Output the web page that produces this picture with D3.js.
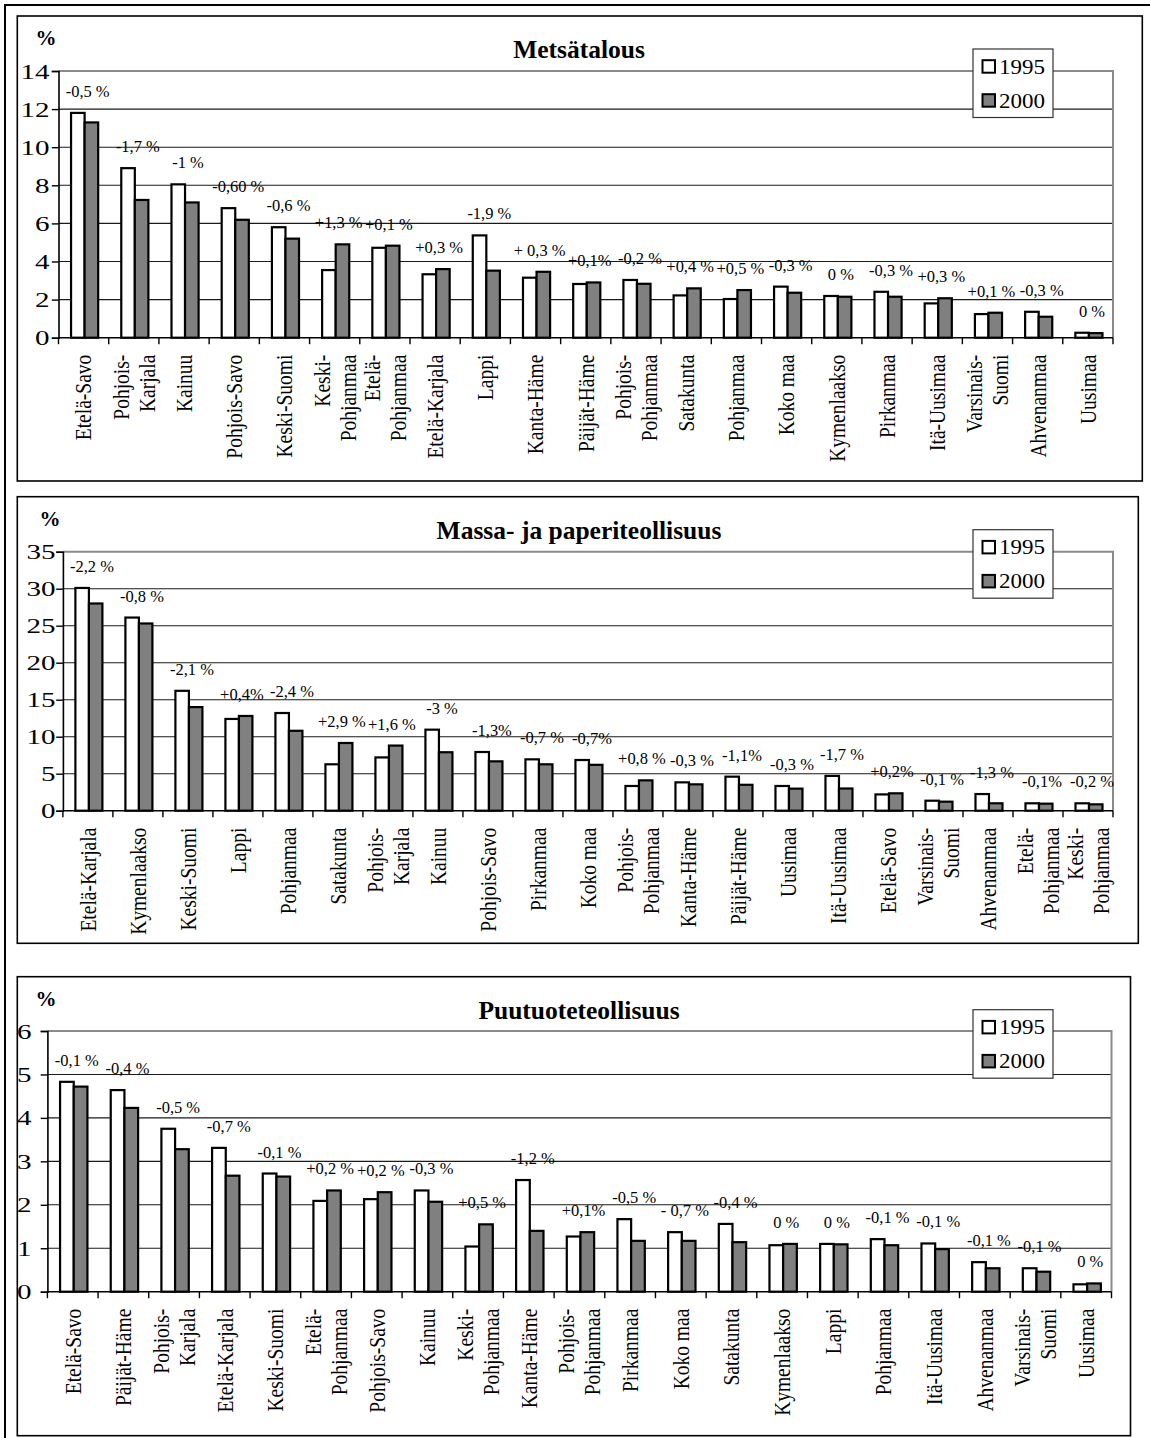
<!DOCTYPE html>
<html><head><meta charset="utf-8">
<script src="https://cdn.jsdelivr.net/npm/d3@7"></script>
<style>body{margin:0;background:#fff}svg{display:block}</style>
</head><body>
<svg id="c" width="1150" height="1438"></svg>
<script>
// ---------- DATA ----------
const years = ["1995", "2000"];

const metsTitle = "Metsätalous";
const metsCategories = ["Etelä-Savo","Pohjois-\nKarjala","Kainuu","Pohjois-Savo","Keski-Suomi","Keski-\nPohjanmaa","Etelä-\nPohjanmaa","Etelä-Karjala","Lappi","Kanta-Häme","Päijät-Häme","Pohjois-\nPohjanmaa","Satakunta","Pohjanmaa","Koko maa","Kymenlaakso","Pirkanmaa","Itä-Uusimaa","Varsinais-\nSuomi","Ahvenanmaa","Uusimaa"];
const mets1995 = [11.8,8.9,8.05,6.8,5.8,3.55,4.72,3.33,5.37,3.15,2.82,3.03,2.22,2.03,2.68,2.19,2.41,1.8,1.24,1.36,0.26];
const mets2000 = [11.3,7.23,7.1,6.19,5.2,4.9,4.83,3.6,3.52,3.46,2.9,2.83,2.59,2.5,2.36,2.15,2.15,2.07,1.31,1.1,0.24];
const metsChange = ["-0,5 %","-1,7 %","-1 %","-0,60 %","-0,6 %","+1,3 %","+0,1 %","+0,3 %","-1,9 %","+ 0,3 %","+0,1%","-0,2 %","+0,4 %","+0,5 %","-0,3 %","0 %","-0,3 %","+0,3 %","+0,1 %","-0,3 %","0 %"];
const metsTicks = [0,2,4,6,8,10,12,14];

const massaTitle = "Massa- ja paperiteollisuus";
const massaCategories = ["Etelä-Karjala","Kymenlaakso","Keski-Suomi","Lappi","Pohjanmaa","Satakunta","Pohjois-\nKarjala","Kainuu","Pohjois-Savo","Pirkanmaa","Koko maa","Pohjois-\nPohjanmaa","Kanta-Häme","Päijät-Häme","Uusimaa","Itä-Uusimaa","Etelä-Savo","Varsinais-\nSuomi","Ahvenanmaa","Etelä-\nPohjanmaa","Keski-\nPohjanmaa"];
const massa1995 = [30.1,26.1,16.2,12.4,13.2,6.27,7.2,10.95,7.93,6.94,6.85,3.34,3.83,4.6,3.34,4.7,2.2,1.35,2.25,1.0,1.0];
const massa2000 = [28.0,25.3,14.0,12.8,10.8,9.15,8.8,7.9,6.67,6.27,6.2,4.1,3.56,3.5,2.98,3.0,2.35,1.22,1.0,0.95,0.86];
const massaChange = ["-2,2 %","-0,8 %","-2,1 %","+0,4%","-2,4 %","+2,9 %","+1,6 %","-3 %","-1,3%","-0,7 %","-0,7%","+0,8 %","-0,3 %","-1,1%","-0,3 %","-1,7 %","+0,2%","-0,1 %","-1,3 %","-0,1%","-0,2 %"];
const massaTicks = [0,5,10,15,20,25,30,35];

const puuTitle = "Puutuoteteollisuus";
const puuCategories = ["Etelä-Savo","Päijät-Häme","Pohjois-\nKarjala","Etelä-Karjala","Keski-Suomi","Etelä-\nPohjanmaa","Pohjois-Savo","Kainuu","Keski-\nPohjanmaa","Kanta-Häme","Pohjois-\nPohjanmaa","Pirkanmaa","Koko maa","Satakunta","Kymenlaakso","Lappi","Pohjanmaa","Itä-Uusimaa","Ahvenanmaa","Varsinais-\nSuomi","Uusimaa"];
const puu1995 = [4.83,4.64,3.75,3.31,2.72,2.09,2.13,2.33,1.04,2.57,1.27,1.67,1.37,1.56,1.07,1.1,1.21,1.11,0.68,0.54,0.17];
const puu2000 = [4.72,4.23,3.28,2.67,2.65,2.33,2.29,2.07,1.55,1.4,1.37,1.17,1.17,1.14,1.1,1.09,1.07,0.98,0.54,0.46,0.19];
const puuChange = ["-0,1 %","-0,4 %","-0,5 %","-0,7 %","-0,1 %","+0,2 %","+0,2 %","-0,3 %","+0,5 %","-1,2 %","+0,1%","-0,5 %","- 0,7 %","-0,4 %","0 %","0 %","-0,1 %","-0,1 %","-0,1 %","-0,1 %","0 %"];
const puuTicks = [0,1,2,3,4,5,6];

// ---------- LAYOUT ----------
const FONT = "'Liberation Serif','Times New Roman',serif";
const SX = 1.15;
const panels = [
  {title: metsTitle, cats: metsCategories, a: mets1995, b: mets2000, chg: metsChange, ticks: metsTicks,
   top: 16, bottom: 481, left: 17.3, right: 1142.3, axisX: 58.5, plotRight: 1113, plotTop: 71, plotBottom: 337.7, tickLabelX: 49.5, pctX: 46},
  {title: massaTitle, cats: massaCategories, a: massa1995, b: massa2000, chg: massaChange, ticks: massaTicks,
   top: 496.7, bottom: 943.3, left: 17.3, right: 1138.3, axisX: 62.9, plotRight: 1113, plotTop: 551.7, plotBottom: 810.7, tickLabelX: 55.5, pctX: 50},
  {title: puuTitle, cats: puuCategories, a: puu1995, b: puu2000, chg: puuChange, ticks: puuTicks,
   top: 976.7, bottom: 1435.7, left: 17.3, right: 1130.5, axisX: 47.4, plotRight: 1111.5, plotTop: 1031, plotBottom: 1291.7, tickLabelX: 31.5, pctX: 46}
];

const svg = d3.select("#c");
svg.append("rect").attr("x", 0).attr("y", 0).attr("width", 1150).attr("height", 1438).attr("fill", "#fff");
// outer frame (right/bottom edges fall outside the picture)
svg.append("rect").attr("x", 5).attr("y", 5).attr("width", 1160).attr("height", 1450)
  .attr("fill", "none").attr("stroke", "#000").attr("stroke-width", 2);

function stext(g, x, y, str, size, anchor, sx) {
  return g.append("text")
    .attr("transform", `translate(${x},${y}) scale(${sx},1)`)
    .attr("font-family", FONT).attr("font-size", size)
    .attr("text-anchor", anchor).attr("fill", "#000").text(str);
}

panels.forEach(p => {
  const g = svg.append("g");
  g.append("rect").attr("x", p.left).attr("y", p.top)
    .attr("width", p.right - p.left).attr("height", p.bottom - p.top)
    .attr("fill", "#fff").attr("stroke", "#000").attr("stroke-width", 1.6);

  const idx = d3.range(p.cats.length);
  const x0 = d3.scaleBand().domain(idx).range([p.axisX, p.plotRight]).padding(0);
  const bw = x0.bandwidth();
  const x1 = d3.scaleBand().domain(years).range([0.25 * bw, 0.79 * bw]).padding(0);
  const ymax = d3.max(p.ticks);
  const y = d3.scaleLinear().domain([0, ymax]).range([p.plotBottom, p.plotTop]);

  // gridlines
  g.append("g").selectAll("line").data(p.ticks.filter(t => t > 0 && t < ymax)).join("line")
    .attr("x1", p.axisX).attr("x2", p.plotRight)
    .attr("y1", d => y(d)).attr("y2", d => y(d))
    .attr("stroke", "#1a1a1a").attr("stroke-width", 1.1);
  // plot area border top/right (gray)
  g.append("path")
    .attr("d", `M${p.axisX},${y(ymax)}H${p.plotRight}V${y(0)}`)
    .attr("fill", "none").attr("stroke", "#8a8a8a").attr("stroke-width", 2);

  // bars
  const series = [p.a, p.b];
  const fills = ["#ffffff", "#808080"];
  series.forEach((vals, si) => {
    g.append("g").selectAll("rect").data(vals).join("rect")
      .attr("x", (d, i) => x0(i) + x1(years[si]))
      .attr("y", d => y(d))
      .attr("width", x1.bandwidth())
      .attr("height", d => y(0) - y(d))
      .attr("fill", fills[si]).attr("stroke", "#000").attr("stroke-width", 2.2);
  });

  // y axis
  const yAxis = d3.axisLeft(y).tickValues(p.ticks).tickSize(6.7).tickFormat("");
  const ya = g.append("g").attr("transform", `translate(${p.axisX},0)`).call(yAxis);
  ya.select(".domain").attr("stroke", "#000").attr("stroke-width", 1.6);
  ya.selectAll(".tick line").attr("stroke", "#000").attr("stroke-width", 1.4);
  p.ticks.forEach(t => {
    stext(g, p.tickLabelX, y(t) + 7.5, String(t), 22, "end", 1.32);
  });

  // x axis: ticks at band boundaries
  const bounds = idx.map(i => x0(i)).concat([p.plotRight]);
  g.append("line").attr("x1", p.axisX).attr("x2", p.plotRight)
    .attr("y1", y(0)).attr("y2", y(0)).attr("stroke", "#000").attr("stroke-width", 1.6);
  g.append("g").selectAll("line").data(bounds).join("line")
    .attr("x1", d => d).attr("x2", d => d)
    .attr("y1", y(0)).attr("y2", y(0) + 6.5)
    .attr("stroke", "#000").attr("stroke-width", 1.4);

  // category labels, rotated
  const lineGap = 26;
  idx.forEach(i => {
    const lines = p.cats[i].split("\n");
    const cx = x0(i) + bw / 2;
    const t = g.append("text")
      .attr("transform", `translate(${cx},${y(0) + 17}) scale(${SX},1) rotate(-90)`)
      .attr("font-family", FONT).attr("font-size", 19.5)
      .attr("text-anchor", "end").attr("fill", "#000");
    lines.forEach((ln, li) => {
      const off = (li - (lines.length - 1) / 2) * lineGap / SX;
      t.append("tspan").attr("x", 0).attr("y", off).attr("dy", "0.35em").text(ln);
    });
  });

  // change annotations
  idx.forEach(i => {
    const top = Math.max(p.a[i], p.b[i]);
    stext(g, x0(i) + bw * 0.58, y(top) - 16, p.chg[i], 16, "middle", 1.03);
  });

  // title and unit
  g.append("text").attr("x", 579).attr("y", p.top + 42)
    .attr("font-family", FONT).attr("font-size", 25.5).attr("font-weight", "bold")
    .attr("text-anchor", "middle").text(p.title);
  g.append("text").attr("x", p.pctX).attr("y", p.top + 29)
    .attr("font-family", FONT).attr("font-size", 21).attr("font-weight", "bold")
    .attr("text-anchor", "middle").text("%");

  // legend
  const lx = 973, ly = p.top + 33;
  const lg = g.append("g");
  lg.append("rect").attr("x", lx).attr("y", ly).attr("width", 80).attr("height", 68.5)
    .attr("fill", "#fff").attr("stroke", "#333").attr("stroke-width", 1.2);
  years.forEach((yr, k) => {
    const cy = ly + 17.7 + k * 34;
    lg.append("rect").attr("x", lx + 9.5).attr("y", cy - 6.5).attr("width", 12.5).attr("height", 12.5)
      .attr("fill", fills[k]).attr("stroke", "#000").attr("stroke-width", 2);
    stext(lg, lx + 26, cy + 7, yr, 20, "start", SX);
  });
});
</script>
</body></html>
